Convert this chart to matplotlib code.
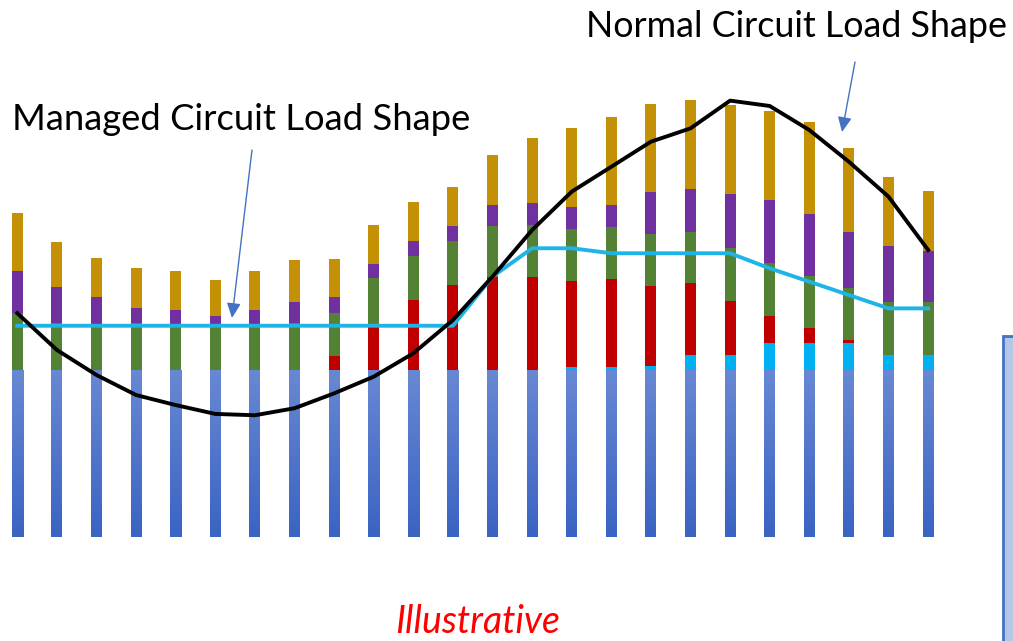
import numpy as np
import matplotlib
matplotlib.use("Agg")
import matplotlib.pyplot as plt
from matplotlib.patches import Rectangle

# ---- data (arbitrary load units, base = 100) ----
hours = list(range(1, 25))
base   = [100] * 24
cyan   = [0, 0, 0, 0, 0, 0, 0, 0, 0, 0, 0, 0, 0, 0, 1.6, 1.8, 2.4, 9, 9, 16, 16, 16, 9, 9]
red    = [0, 0, 0, 0, 0, 0, 0, 0, 8.4, 27.5, 41.7, 50.7, 55.9, 55.9, 51.5, 52.7, 47.7, 42.9, 32.3, 16.5, 9, 2, 0, 0]
green  = [34, 28, 27.5, 28, 27.5, 27.5, 27.5, 28, 25.9, 27.4, 26.3, 26.3, 30.5, 30.8, 31.3, 31.3, 31.5, 30.9, 31.6, 31.6, 31.5, 31.1, 31.9, 31.9]
purple = [25, 22, 16, 9.3, 8.6, 4.8, 8.6, 12.8, 9.4, 8.7, 9.2, 9.3, 12.4, 13.2, 13.2, 13, 25.1, 25.6, 32.7, 37.9, 36.9, 33.5, 33.5, 30.5]
gold   = [35, 26.5, 23.5, 24, 23.2, 21.6, 23.2, 25.1, 22.9, 23.2, 23.2, 23.4, 29.9, 38.9, 47.1, 52.7, 52.7, 53.5, 53.1, 53.1, 54.9, 50.5, 41.1, 35.7]
normal_load  = [134, 112, 97, 85, 79, 73.7, 72.9, 77.1, 86, 96, 110, 129.9, 155.9, 183.8, 206.8, 221.7, 236.7, 244.7, 261.3, 258.1, 243.7, 224.7, 203.8, 171.9]
managed_load = [126.5] * 12 + [155.9, 172.9, 172.9, 169.9, 169.9, 169.9, 169.9, 160.9, 152.9, 144.9, 136.9, 136.9]

W, H = 1013, 641
fig = plt.figure(figsize=(W / 100, H / 100), dpi=100)
ax = fig.add_axes([0, 0, 1, 1])
ax.set_axis_off()

# pixel mapping: bar i center at 17.3 + 39.6*i px ; base bottom at 537px, 1 unit = 1.67 px
sp = 39.6
x0 = -17.3 / sp
upx = 1.67

x = np.arange(24)
bw = 11 / sp

# base bars with vertical gradient
base_bars = ax.bar(x, base, width=bw, color="#557ad0", linewidth=0, zorder=2)
grad = np.linspace(0, 1, 256).reshape(-1, 1)
cmap = matplotlib.colors.LinearSegmentedColormap.from_list("g", ["#3a63c3", "#6888d3"])
for b in base_bars:
    im = ax.imshow(grad, extent=[b.get_x(), b.get_x() + b.get_width(), 0, b.get_height()],
                   origin="lower", cmap=cmap, aspect="auto", zorder=2.1,
                   interpolation="bilinear")
    im.set_clip_path(b)

bottom = np.array(base, dtype=float)
for vals, col in [(cyan, "#00b0f0"), (red, "#c00000"), (green, "#548235"),
                  (purple, "#7030a0"), (gold, "#c49106")]:
    ax.bar(x, vals, width=bw, bottom=bottom, color=col, linewidth=0, zorder=3)
    bottom += np.array(vals)

ax.set_ylim(-(H - 537) / upx, 537 / upx)
ax.set_xlim(x0, x0 + W / sp)

ax.plot(x, managed_load, color="#1fb4e6", lw=2.8, zorder=5, solid_joinstyle="round")
ax.plot(x, normal_load, color="black", lw=2.8, zorder=6, solid_joinstyle="round")

# texts (figure pixel coords)
def px(xp, yp):
    return xp / W, 1 - yp / H

fig.text(*px(586, 37), "Normal Circuit Load Shape", fontsize=25.8, family="Lato",
         ha="left", va="baseline")
fig.text(*px(12, 130), "Managed Circuit Load Shape", fontsize=26.2, family="Lato",
         ha="left", va="baseline")
fig.text(*px(478, 633), "Illustrative", fontsize=27, family="Lato", style="italic",
         color="#ff0000", ha="center", va="baseline")

# arrows
for (sx, sy), (ex, ey) in [((855, 62), (842, 132)), ((252, 150), (232, 318))]:
    fig.add_artist(matplotlib.patches.FancyArrowPatch(
        px(sx, sy), px(ex, ey), transform=fig.transFigure,
        arrowstyle="-|>,head_length=9,head_width=4.2", color="#4472c4", lw=1.0,
        shrinkA=0, shrinkB=0, zorder=7))

# partial box on the right edge
fig.add_artist(Rectangle(px(1003, 660), 40 / W, (660 - 336) / H,
                         transform=fig.transFigure, facecolor="#b4c7e7",
                         edgecolor="#4472c4", lw=2.0, zorder=1))

fig.savefig("out.png", dpi=100)
